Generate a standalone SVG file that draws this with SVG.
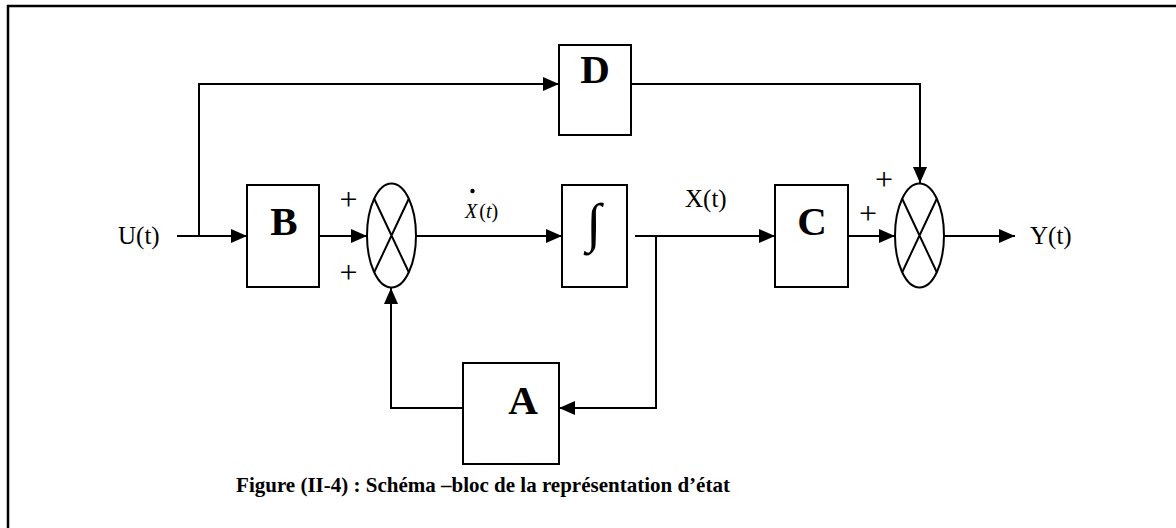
<svg xmlns="http://www.w3.org/2000/svg" width="1176" height="528" viewBox="0 0 1176 528">
<style>
.box{fill:#fff;stroke:#000;stroke-width:2}
.ln{fill:none;stroke:#000;stroke-width:2}
.big{font-family:"Liberation Serif",serif;font-weight:bold;font-size:41px;text-anchor:middle}
.lbl{font-family:"Liberation Serif",serif;font-size:25px}
.pl{font-family:"Liberation Serif",serif;font-size:32px;text-anchor:middle}
.cap{font-family:"Liberation Serif",serif;font-weight:bold;font-size:21px;text-anchor:middle}
</style>
<defs>
<marker id="ah" markerWidth="16" markerHeight="14" refX="16" refY="7" orient="auto" markerUnits="userSpaceOnUse">
<path d="M0,0 L16,7 L0,14 Z" fill="#000"/>
</marker>
</defs>
<rect x="8" y="6" width="1180" height="540" fill="none" stroke="#000" stroke-width="2.5"/>
<g id="connectors">
<path class="ln" d="M177,236 H247" marker-end="url(#ah)"/>
<path class="ln" d="M199,236 V84 H559" marker-end="url(#ah)"/>
<path class="ln" d="M319,236 H367" marker-end="url(#ah)"/>
<path class="ln" d="M416,236 H562" marker-end="url(#ah)"/>
<path class="ln" d="M635,236 H775" marker-end="url(#ah)"/>
<path class="ln" d="M656,236 V408 H559" marker-end="url(#ah)"/>
<path class="ln" d="M463,408 H391 V288" marker-end="url(#ah)"/>
<path class="ln" d="M848,236 H895" marker-end="url(#ah)"/>
<path class="ln" d="M631,84 H920 V183" marker-end="url(#ah)"/>
<path class="ln" d="M944,236 H1015" marker-end="url(#ah)"/>
</g>
<g id="nodeD"><rect class="box" x="559" y="45" width="72" height="90"/><text class="big" x="595" y="83">D</text></g>
<g id="nodeB"><rect class="box" x="247" y="185" width="72" height="102"/><text class="big" x="284" y="235">B</text></g>
<g id="sum1"><ellipse class="box" cx="391.5" cy="235.5" rx="24.5" ry="52"/><path class="ln" d="M374.2,198.7 L408.8,272.3 M408.8,198.7 L374.2,272.3"/></g>
<g id="integrator"><rect class="box" x="562" y="185" width="65" height="102"/><text x="594" y="241" font-family="Liberation Serif,serif" font-size="54" text-anchor="middle">∫</text></g>
<g id="nodeC"><rect class="box" x="775" y="185" width="73" height="102"/><text class="big" x="812" y="235">C</text></g>
<g id="sum2"><ellipse class="box" cx="919.5" cy="235.5" rx="24.5" ry="52"/><path class="ln" d="M902.2,198.7 L936.8,272.3 M936.8,198.7 L902.2,272.3"/></g>
<g id="nodeA"><rect class="box" x="463" y="363" width="96" height="101"/><text class="big" x="523" y="414">A</text></g>
<g id="labels">
<text class="lbl" x="118" y="244">U(t)</text>
<text class="lbl" x="685" y="207">X(t)</text>
<text class="lbl" x="1030" y="244">Y(t)</text>
<text class="pl" x="348.5" y="210">+</text>
<text class="pl" x="348.5" y="283">+</text>
<text class="pl" x="868" y="224">+</text>
<text class="pl" x="884" y="190">+</text>
<circle cx="472.5" cy="191" r="2.2" fill="#000"/>
<text x="465" y="218" font-family="Liberation Serif,serif" font-size="20"><tspan font-style="italic">X</tspan><tspan dx="2">(</tspan><tspan font-style="italic">t</tspan>)</text>
</g>
<text class="cap" x="483" y="492">Figure (II-4) : Schéma –bloc de la représentation d’état</text>
</svg>
